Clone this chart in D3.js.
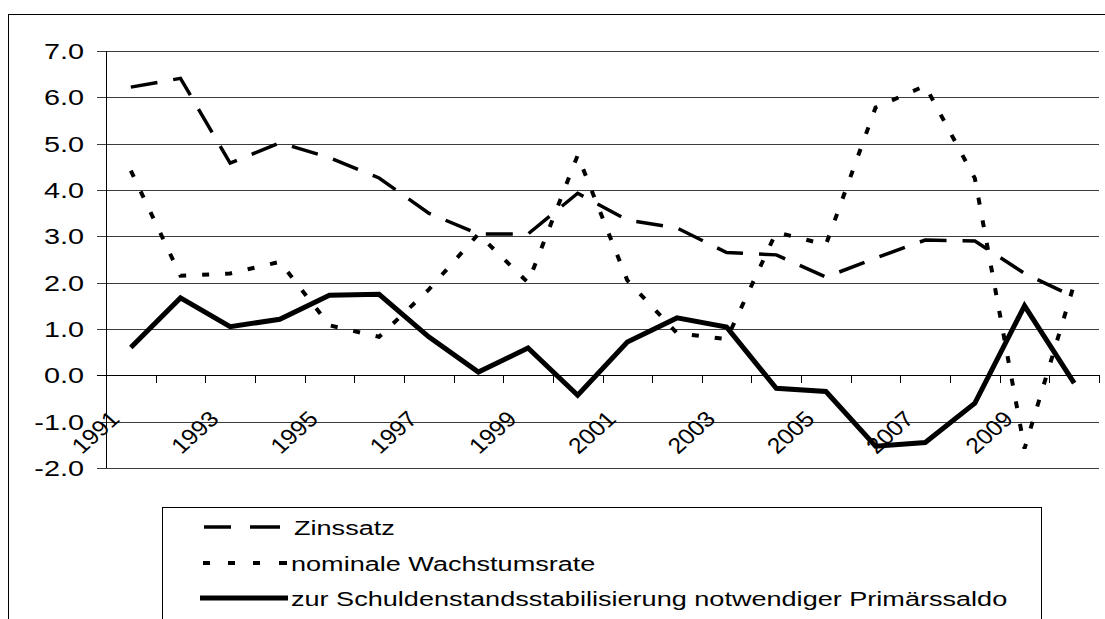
<!DOCTYPE html>
<html>
<head>
<meta charset="utf-8">
<script src="https://cdn.jsdelivr.net/npm/d3@7"></script>
<style>
  body { margin: 0; background: #fff; }
  svg { display: block; font-family: "Liberation Sans", Arial, sans-serif; }
</style>
</head>
<body>
<div id="chart"></div>
<script>
// data
const years = ['1991', '1992', '1993', '1994', '1995', '1996', '1997', '1998', '1999', '2000',
               '2001', '2002', '2003', '2004', '2005', '2006', '2007', '2008', '2009', '2010'];
const zinssatz = [6.22, 6.41, 4.58, 5.02, 4.7, 4.26, 3.5, 3.05, 3.05, 3.93,
                  3.35, 3.18, 2.65, 2.6, 2.12, 2.53, 2.92, 2.9, 2.2, 1.69];
const wachstum = [4.42, 2.15, 2.2, 2.45, 1.08, 0.83, 1.85, 3.05, 2.0, 4.75,
                  2.05, 0.91, 0.78, 3.09, 2.82, 5.78, 6.25, 4.25, -1.58, 1.97];
const primaer = [0.6, 1.67, 1.05, 1.21, 1.73, 1.75, 0.83, 0.07, 0.59, -0.43,
                 0.72, 1.24, 1.04, -0.28, -0.35, -1.53, -1.45, -0.6, 1.5, -0.17];
const yTicks = [-2, -1, 0, 1, 2, 3, 4, 5, 6, 7];
const xLabels = ['1991', '1993', '1995', '1997', '1999', '2001', '2003', '2005', '2007', '2009'];
const seriesNames = ['Zinssatz', 'nominale Wachstumsrate',
                     'zur Schuldenstandsstabilisierung notwendiger Primärssaldo'];

const W = 1105, H = 619;
const SX = 1.31;      // the picture is stretched sideways, text too
const SX_LEGEND = 1.29;
const SX_ROT = 1.12;

const svg = d3.select('#chart').append('svg')
    .attr('width', W)
    .attr('height', H);

// outer frame
svg.append('rect')
    .attr('x', 8.5).attr('y', 14.5)
    .attr('width', W + 10).attr('height', H)
    .attr('fill', 'none').attr('stroke', '#000').attr('stroke-width', 1);

const x = d3.scaleBand().domain(years).range([106, 1099]).paddingInner(0).paddingOuter(0);
const y = d3.scaleLinear().domain([-2, 7]).range([468, 51]);
const cx = d => x(d) + x.bandwidth() / 2;

// gridlines + left ticks
svg.append('g').selectAll('line')
    .data(yTicks)
    .enter().append('line')
    .attr('x1', 97).attr('x2', 1099)
    .attr('y1', d => Math.round(y(d)) + 0.5)
    .attr('y2', d => Math.round(y(d)) + 0.5)
    .attr('stroke', d => d === 0 ? '#000' : '#3c3c3c')
    .attr('stroke-width', 1);

// y axis line
svg.append('line')
    .attr('x1', 106.5).attr('x2', 106.5)
    .attr('y1', y(7)).attr('y2', y(-2))
    .attr('stroke', '#000');

// category ticks on the zero line
const bounds = years.map(d => x(d)).concat([x(years[years.length - 1]) + x.bandwidth()]);
svg.append('g').selectAll('line')
    .data(bounds)
    .enter().append('line')
    .attr('x1', d => Math.round(d) + 0.5)
    .attr('x2', d => Math.round(d) + 0.5)
    .attr('y1', Math.round(y(0)))
    .attr('y2', Math.round(y(0)) + 8)
    .attr('stroke', '#000');

// y labels
svg.append('g').selectAll('text')
    .data(yTicks)
    .enter().append('text')
    .attr('transform', d => 'translate(84,' + y(d) + ') scale(' + SX + ',1)')
    .attr('text-anchor', 'end')
    .attr('dy', '0.36em')
    .style('font-size', '22px')
    .attr('fill', '#000')
    .text(d => d.toFixed(1));

// x labels, rotated
svg.append('g').selectAll('text')
    .data(xLabels)
    .enter().append('text')
    .attr('transform', d => 'translate(' + (cx(d) - 10) + ',' + (y(0) + 45) + ') scale(' + SX_ROT + ',1) rotate(-45)')
    .attr('text-anchor', 'end')
    .style('font-size', '22px')
    .attr('fill', '#000')
    .text(d => d);

// lines
const line = d3.line()
    .x((d, i) => cx(years[i]))
    .y(d => y(d));

const styles = [
    { data: zinssatz, width: 3.5, dash: '27,16' },
    { data: wachstum, width: 4, dash: '7,16' },
    { data: primaer, width: 5, dash: null }
];

svg.append('g').selectAll('path')
    .data(styles)
    .enter().append('path')
    .attr('d', d => line(d.data))
    .attr('fill', 'none')
    .attr('stroke', '#000')
    .attr('stroke-width', d => d.width)
    .attr('stroke-dasharray', d => d.dash)
    .attr('stroke-linejoin', 'miter');

// legend
const legend = svg.append('g');
legend.append('rect')
    .attr('x', 162.5).attr('y', 507.5)
    .attr('width', 1041 - 162).attr('height', 200)
    .attr('fill', '#fff').attr('stroke', '#000');

const legendY = [527, 563, 598];
const legendDash = [
    [[204, 231], [250, 280]],
    [[203, 210], [228, 235], [253, 260], [279, 287]],
    [[200, 288]]
];
const legendWidth = [3.5, 4, 5];

const items = legend.selectAll('g.item')
    .data(seriesNames)
    .enter().append('g')
    .attr('class', 'item');

items.each(function (name, i) {
    const g = d3.select(this);
    g.selectAll('line')
        .data(legendDash[i])
        .enter().append('line')
        .attr('x1', d => d[0]).attr('x2', d => d[1])
        .attr('y1', legendY[i]).attr('y2', legendY[i])
        .attr('stroke', '#000')
        .attr('stroke-width', legendWidth[i]);
    g.append('text')
        .attr('transform', 'translate(' + (i === 0 ? 294 : 291) + ',' + legendY[i] + ') scale(' + SX_LEGEND + ',1)')
        .attr('dy', '0.36em')
        .style('font-size', '21px')
        .attr('fill', '#000')
        .text(name);
});
</script>
</body>
</html>
